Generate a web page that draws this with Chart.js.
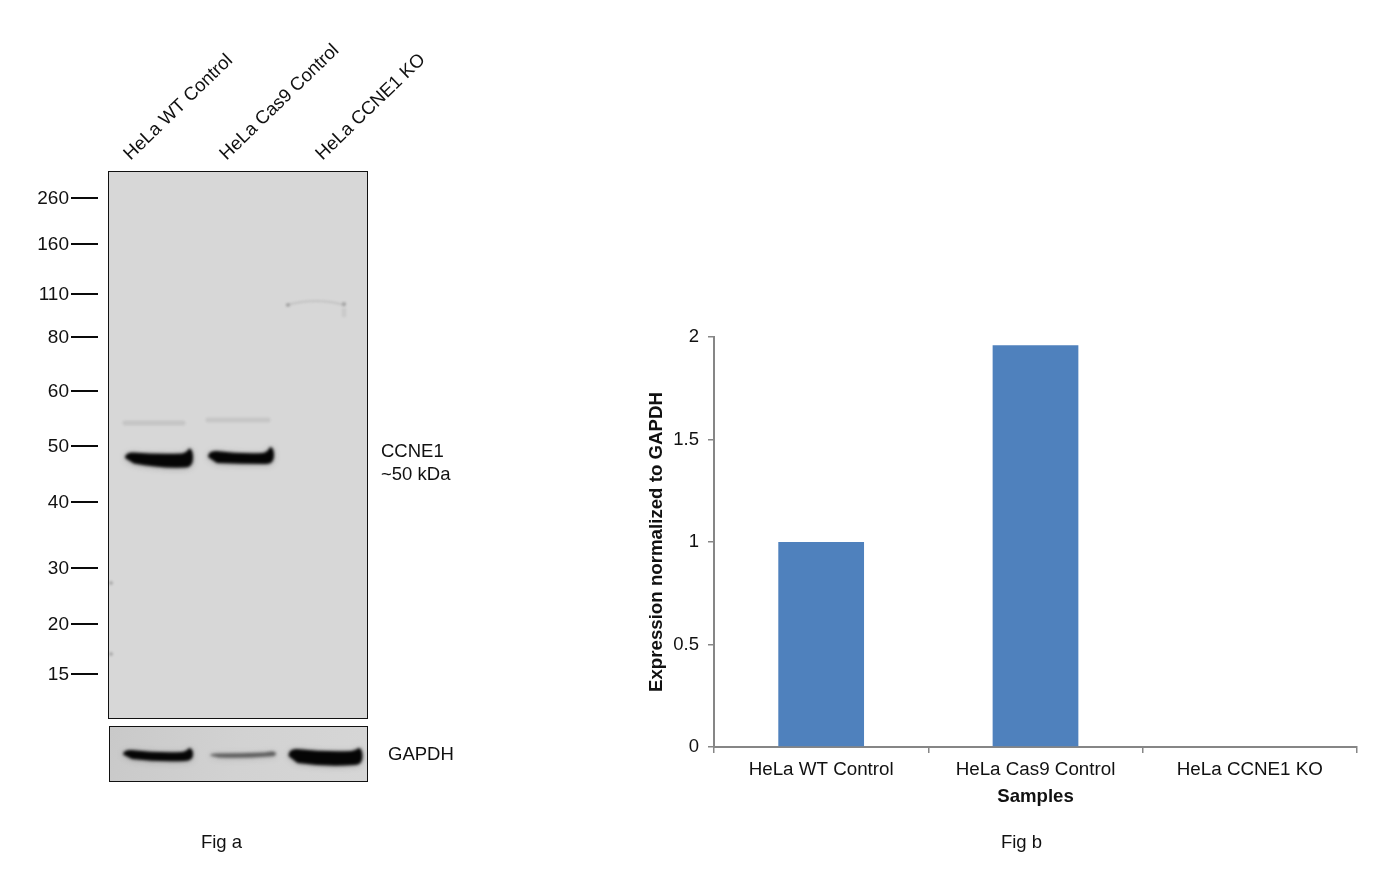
<!DOCTYPE html>
<html>
<head>
<meta charset="utf-8">
<script src="https://cdn.jsdelivr.net/npm/chart.js@4/dist/chart.umd.min.js"></script>
<style>
html,body{margin:0;padding:0;background:#fff;width:1375px;height:888px;overflow:hidden}
canvas{position:absolute;display:block}
</style>
</head>
<body>
<canvas id="blot" width="560" height="888" style="left:0;top:0;width:560px;height:888px"></canvas>
<canvas id="gapdh" width="259" height="56" style="left:109px;top:726px;width:259px;height:56px"></canvas>
<canvas id="bars" width="735" height="888" style="left:640px;top:0;width:735px;height:888px"></canvas>
<script>
// ---------- data ----------
const samples = ['HeLa WT Control', 'HeLa Cas9 Control', 'HeLa CCNE1 KO'];
const expression = [1, 1.96, 0];
const yTicks = [0, 0.5, 1, 1.5, 2];
const markerKDa = ['260', '160', '110', '80', '60', '50', '40', '30', '20', '15'];
const markerMigration = [26, 72, 122, 165, 219, 274, 330, 396, 452, 502];
const ccne1Lanes = [50, 132];
const ccne1Migration = [287.5, 286];
const faintLanes = [45, 129, 207];
const faintMigration = [251, 248, 130];
const gapdhLanes = [48, 133, 215.5];
const gapdhMigration = [28, 28.5, 30];

// ---------- shared ----------
const FONT = '"Liberation Sans", Arial, sans-serif';
Chart.defaults.font.family = FONT;
Chart.defaults.color = '#111';

function bandPath(ctx, cx, cy, s) {
  ctx.beginPath();
  ctx.moveTo(cx - s.w, cy + (s.tl + s.bl) / 2);
  ctx.quadraticCurveTo(cx - s.w, cy + s.tl, cx - s.w + 8, cy + s.tl);
  ctx.quadraticCurveTo(cx, cy + s.tm, cx + s.w - 11, cy + s.tm - 1);
  ctx.quadraticCurveTo(cx + s.w - 6, cy + s.tm - 2, cx + s.w - 4, cy + s.tr);
  ctx.quadraticCurveTo(cx + s.w, cy + s.tr, cx + s.w, cy + (s.tr + s.br) / 2);
  ctx.quadraticCurveTo(cx + s.w, cy + s.br, cx + s.w - 8, cy + s.br);
  ctx.quadraticCurveTo(cx, cy + s.bm + 1, cx - s.w + 9, cy + s.bl);
  ctx.closePath();
}
function drawBand(ctx, cx, cy, s) {
  ctx.save();
  ctx.filter = 'blur(3px)';
  ctx.fillStyle = 'rgba(60,60,60,' + (s.halo === undefined ? 0.35 : s.halo) + ')';
  bandPath(ctx, cx, cy + 1, s);
  ctx.fill();
  ctx.filter = 'blur(' + (s.blur || 1.4) + 'px)';
  ctx.fillStyle = s.color || '#050505';
  bandPath(ctx, cx, cy, s);
  ctx.fill();
  ctx.restore();
}
const mainShapes = [
  {w: 34, tl: -7, tm: -5, tr: -11, bl: 4, bm: 8, br: 8},
  {w: 33, tl: -7, tm: -4, tr: -11, bl: 5, bm: 5, br: 6}
];
const gapdhShapes = [
  {w: 35, tl: -5, tm: -2, tr: -7, bl: 4, bm: 6, br: 6, halo: .3},
  {w: 33, tl: -2, tm: -2, tr: -4, bl: 2, bm: 2, br: 1, color: '#5c5c5c', halo: .2},
  {w: 37, tl: -8, tm: -5, tr: -9, bl: 6, bm: 9, br: 8, halo: .3}
];

// ---------- western blot ----------
const blotPlugin = {
  id: 'blotPanel',
  beforeDatasetsDraw(chart) {
    const {ctx, chartArea: a} = chart;
    ctx.save();
    ctx.fillStyle = '#d7d7d7';
    ctx.fillRect(a.left, a.top, a.width, a.height);
    ctx.restore();
  },
  afterDatasetsDraw(chart) {
    const {ctx, chartArea: a, scales} = chart;
    chart.getDatasetMeta(0).data.forEach((el, i) => drawBand(ctx, el.x, el.y, mainShapes[i]));
    // faint upper bands and smear in the KO lane
    const faint = chart.getDatasetMeta(1).data;
    ctx.save();
    ctx.filter = 'blur(1.2px)';
    ctx.lineCap = 'round';
    [[29, .14], [30, .13]].forEach((f, i) => {
      const el = faint[i];
      ctx.strokeStyle = 'rgba(90,90,90,' + f[1] + ')';
      ctx.lineWidth = 5;
      ctx.beginPath();
      ctx.moveTo(el.x - f[0], el.y);
      ctx.lineTo(el.x + f[0], el.y);
      ctx.stroke();
    });
    const k = faint[2];
    ctx.strokeStyle = 'rgba(120,120,120,.2)';
    ctx.lineWidth = 2;
    ctx.beginPath();
    ctx.moveTo(k.x - 29, k.y + 3);
    ctx.quadraticCurveTo(k.x, k.y - 5, k.x + 28, k.y + 3);
    ctx.stroke();
    ctx.fillStyle = 'rgba(100,100,100,.35)';
    ctx.beginPath(); ctx.arc(k.x - 28, k.y + 3, 2, 0, 7); ctx.fill();
    ctx.beginPath(); ctx.arc(k.x + 28, k.y + 2, 2.2, 0, 7); ctx.fill();
    ctx.fillStyle = 'rgba(120,120,120,.14)';
    ctx.fillRect(k.x + 26, k.y + 6, 4, 9);
    // edge specks
    ctx.fillStyle = 'rgba(110,110,110,.4)';
    ctx.beginPath(); ctx.arc(a.left + 2, a.top + 411, 2, 0, 7); ctx.fill();
    ctx.beginPath(); ctx.arc(a.left + 2, a.top + 482, 2, 0, 7); ctx.fill();
    ctx.restore();
    // panel border
    ctx.save();
    ctx.strokeStyle = '#111';
    ctx.lineWidth = 1;
    ctx.strokeRect(a.left - .5, a.top - .5, a.width + 1, a.height + 1);
    // ladder dashes, placed by the migration scale
    ctx.strokeStyle = '#0a0a0a';
    ctx.lineWidth = 2;
    markerMigration.forEach(m => {
      const y = scales.y.getPixelForValue(m);
      ctx.beginPath();
      ctx.moveTo(71, y);
      ctx.lineTo(98, y);
      ctx.stroke();
    });
    // text
    ctx.fillStyle = '#111';
    ctx.font = '18.5px ' + FONT;
    ctx.textBaseline = 'middle';
    ctx.textAlign = 'left';
    ctx.fillText('CCNE1', 381, 452);
    ctx.fillText('~50 kDa', 381, 475);
    ctx.fillText('GAPDH', 388, 755);
    ctx.textAlign = 'center';
    ctx.fillText('Fig a', 221.5, 843);
    samples.forEach((label, i) => {
      ctx.save();
      ctx.translate(127 + i * 96, 157);
      ctx.rotate(-44 * Math.PI / 180);
      ctx.textAlign = 'left';
      ctx.textBaseline = 'middle';
      ctx.font = '18.5px ' + FONT;
      ctx.fillText(label, 0, 0);
      ctx.restore();
    });
    ctx.restore();
  }
};

new Chart(document.getElementById('blot'), {
  type: 'scatter',
  data: {
    datasets: [
      {data: ccne1Lanes.map((x, i) => ({x, y: ccne1Migration[i]})), pointRadius: 0},
      {data: faintLanes.map((x, i) => ({x, y: faintMigration[i]})), pointRadius: 0}
    ]
  },
  plugins: [blotPlugin],
  options: {
    responsive: false, animation: false, devicePixelRatio: 1,
    layout: {padding: {left: 0, top: 172, right: 193, bottom: 170}},
    plugins: {legend: {display: false}, tooltip: {enabled: false}},
    scales: {
      x: {type: 'linear', display: false, min: 0, max: 258},
      y: {
        type: 'linear', reverse: true, min: 0, max: 546,
        afterFit(s) { s.width = 109; },
        afterBuildTicks(s) { s.ticks = markerMigration.map(v => ({value: v})); },
        border: {display: false},
        grid: {display: false, drawTicks: false},
        ticks: {
          autoSkip: false, padding: 40, labelOffset: 1, font: {size: 19}, color: '#111',
          callback(v) { return markerKDa[markerMigration.indexOf(v)]; }
        }
      }
    }
  }
});

// ---------- GAPDH loading control ----------
new Chart(document.getElementById('gapdh'), {
  type: 'scatter',
  data: {datasets: [{data: gapdhLanes.map((x, i) => ({x, y: gapdhMigration[i]})), pointRadius: 0}]},
  plugins: [{
    id: 'gapdhPanel',
    beforeDatasetsDraw(chart) {
      const {ctx, chartArea: a} = chart;
      ctx.save();
      const g = ctx.createLinearGradient(a.left, a.top, a.right, a.bottom);
      g.addColorStop(0, '#c9c9c9');
      g.addColorStop(.5, '#d2d2d2');
      g.addColorStop(1, '#d6d6d6');
      ctx.fillStyle = g;
      ctx.fillRect(a.left, a.top, a.width, a.height);
      ctx.restore();
    },
    afterDatasetsDraw(chart) {
      const {ctx, chartArea: a} = chart;
      chart.getDatasetMeta(0).data.forEach((el, i) => drawBand(ctx, el.x, el.y, gapdhShapes[i]));
      ctx.save();
      ctx.strokeStyle = '#111';
      ctx.lineWidth = 1;
      ctx.strokeRect(a.left - .5, a.top - .5, a.width + 1, a.height + 1);
      ctx.restore();
    }
  }],
  options: {
    responsive: false, animation: false, devicePixelRatio: 1,
    layout: {padding: 1},
    plugins: {legend: {display: false}, tooltip: {enabled: false}},
    scales: {
      x: {type: 'linear', display: false, min: 0, max: 257},
      y: {type: 'linear', display: false, reverse: true, min: 0, max: 54}
    }
  }
});

// ---------- bar chart ----------
new Chart(document.getElementById('bars'), {
  type: 'bar',
  data: {
    labels: samples,
    datasets: [{data: expression, backgroundColor: '#4f81bd', barPercentage: 0.4, categoryPercentage: 1}]
  },
  plugins: [{
    id: 'figCaption',
    afterDraw(chart) {
      const {ctx} = chart;
      ctx.save();
      ctx.fillStyle = '#111';
      ctx.font = '18.5px ' + FONT;
      ctx.textAlign = 'center';
      ctx.textBaseline = 'middle';
      ctx.fillText('Fig b', 381.5, 843);
      ctx.restore();
    }
  }],
  options: {
    responsive: false, animation: false, devicePixelRatio: 1,
    layout: {padding: {left: 0, top: 337, right: 18, bottom: 78}},
    plugins: {legend: {display: false}, tooltip: {enabled: false}},
    scales: {
      x: {
        afterFit(s) { s.height = 63; },
        offset: true,
        border: {color: '#868686', width: 2},
        grid: {offset: true, drawOnChartArea: false, color: '#868686', tickLength: 6, lineWidth: 1.5},
        ticks: {padding: 6, maxRotation: 0, minRotation: 0, font: {size: 18.8}, color: '#111'},
        title: {display: true, text: 'Samples', font: {size: 18.6, weight: 'bold', lineHeight: 1.2}, color: '#111', padding: {top: 0, bottom: 2}}
      },
      y: {
        min: 0, max: 2,
        afterFit(s) { s.width = 74; },
        afterBuildTicks(s) { s.ticks = yTicks.map(v => ({value: v})); },
        border: {color: '#868686', width: 2},
        grid: {drawOnChartArea: false, color: '#868686', tickLength: 6, lineWidth: 1.5},
        ticks: {padding: 9, font: {size: 18.5}, color: '#111', callback(v) { return String(v); }},
        title: {display: true, text: 'Expression normalized to GAPDH', font: {size: 18.7, weight: 'bold', lineHeight: 1.2}, color: '#111', padding: {top: 6, bottom: 0}}
      }
    }
  }
});
</script>
</body>
</html>
